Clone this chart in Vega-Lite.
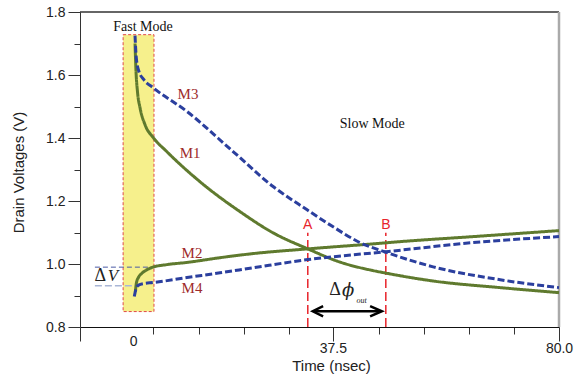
{
  "$schema": "https://vega.github.io/schema/vega-lite/v6.json",
  "width": 479,
  "height": 315,
  "autosize": "none",
  "padding": {"left": 80, "top": 12, "right": 15, "bottom": 55},
  "background": "white",
  "config": {
    "view": {"stroke": null},
    "axis": {
      "labelFont": "Liberation Sans",
      "labelFontSize": 14,
      "labelColor": "#222",
      "titleFont": "Liberation Sans",
      "titleFontSize": 15,
      "titleFontWeight": "normal",
      "titleColor": "#222",
      "grid": false
    }
  },
  "datasets": {
    "curves": [
      {"s": "M1", "t": 0.34, "v": 1.70}, {"s": "M1", "t": 0.5, "v": 1.62}, {"s": "M1", "t": 0.8, "v": 1.547},
      {"s": "M1", "t": 1.28, "v": 1.496}, {"s": "M1", "t": 2.22, "v": 1.442}, {"s": "M1", "t": 3.78, "v": 1.401},
      {"s": "M1", "t": 6.3, "v": 1.357}, {"s": "M1", "t": 12.56, "v": 1.261}, {"s": "M1", "t": 20.08, "v": 1.166},
      {"s": "M1", "t": 26.28, "v": 1.099}, {"s": "M1", "t": 32.8, "v": 1.048}, {"s": "M1", "t": 38.87, "v": 1.006},
      {"s": "M1", "t": 45.1, "v": 0.979}, {"s": "M1", "t": 47.5, "v": 0.971}, {"s": "M1", "t": 56.35, "v": 0.946},
      {"s": "M1", "t": 68.95, "v": 0.925}, {"s": "M1", "t": 80, "v": 0.909},
      {"s": "M2", "t": 0.4, "v": 0.912}, {"s": "M2", "t": 0.6, "v": 0.94}, {"s": "M2", "t": 1.0, "v": 0.958},
      {"s": "M2", "t": 1.6, "v": 0.97}, {"s": "M2", "t": 2.6, "v": 0.982}, {"s": "M2", "t": 3.7, "v": 0.99},
      {"s": "M2", "t": 6.3, "v": 0.998}, {"s": "M2", "t": 10.1, "v": 1.005}, {"s": "M2", "t": 16.3, "v": 1.02},
      {"s": "M2", "t": 22.5, "v": 1.033}, {"s": "M2", "t": 32.8, "v": 1.048}, {"s": "M2", "t": 45.1, "v": 1.064},
      {"s": "M2", "t": 50.15, "v": 1.071}, {"s": "M2", "t": 63.9, "v": 1.087}, {"s": "M2", "t": 80, "v": 1.106},
      {"s": "M3", "t": 0.34, "v": 1.725}, {"s": "M3", "t": 0.55, "v": 1.66}, {"s": "M3", "t": 1.0, "v": 1.615},
      {"s": "M3", "t": 2.0, "v": 1.585}, {"s": "M3", "t": 3.72, "v": 1.56}, {"s": "M3", "t": 10.11, "v": 1.484},
      {"s": "M3", "t": 18.76, "v": 1.357}, {"s": "M3", "t": 26.28, "v": 1.246}, {"s": "M3", "t": 32.67, "v": 1.172},
      {"s": "M3", "t": 37.56, "v": 1.118}, {"s": "M3", "t": 42.6, "v": 1.068}, {"s": "M3", "t": 47.7, "v": 1.036},
      {"s": "M3", "t": 56.35, "v": 0.991}, {"s": "M3", "t": 68.95, "v": 0.95}, {"s": "M3", "t": 80, "v": 0.925},
      {"s": "M4", "t": 0.2, "v": 0.897}, {"s": "M4", "t": 0.6, "v": 0.925}, {"s": "M4", "t": 1.0, "v": 0.933},
      {"s": "M4", "t": 2.0, "v": 0.938}, {"s": "M4", "t": 3.7, "v": 0.941}, {"s": "M4", "t": 10.1, "v": 0.957},
      {"s": "M4", "t": 16.3, "v": 0.972}, {"s": "M4", "t": 22.5, "v": 0.988}, {"s": "M4", "t": 32.8, "v": 1.014},
      {"s": "M4", "t": 47.5, "v": 1.039}, {"s": "M4", "t": 63.9, "v": 1.068}, {"s": "M4", "t": 80, "v": 1.087}
    ],
    "box": [{"t": -1.9, "t2": 3.9, "v": 0.849, "v2": 1.728}],
    "frameTop": [{"t": -10, "t2": 80, "v": 1.8}],
    "frameRight": [{"t": 80, "v": 0.8, "v2": 1.8}],
    "dvUpper": [{"t": -7.2, "t2": 3.2, "v": 0.99}],
    "dvLower": [{"t": -7.2, "t2": 0.5, "v": 0.931}],
    "markers": [
      {"name": "A", "t": 32.8, "v": 0.8, "v2": 1.099, "vl": 1.123},
      {"name": "B", "t": 47.46, "v": 0.8, "v2": 1.099, "vl": 1.123}
    ],
    "shaft": [{"t": 34.0, "t2": 46.45, "v": 0.85}],
    "heads": [
      {"h": "L", "i": 1, "t": 35.68, "v": 0.866}, {"h": "L", "i": 2, "t": 33.74, "v": 0.85}, {"h": "L", "i": 3, "t": 35.68, "v": 0.834},
      {"h": "R", "i": 1, "t": 44.51, "v": 0.866}, {"h": "R", "i": 2, "t": 46.71, "v": 0.85}, {"h": "R", "i": 3, "t": 44.51, "v": 0.834}
    ],
    "modeLabels": [
      {"label": "Fast Mode", "t": 1.84, "v": 1.753},
      {"label": "Slow Mode", "t": 44.9, "v": 1.445}
    ],
    "seriesLabels": [
      {"label": "M3", "t": 10.3, "v": 1.541},
      {"label": "M1", "t": 10.7, "v": 1.353},
      {"label": "M2", "t": 11.05, "v": 1.036},
      {"label": "M4", "t": 11.05, "v": 0.925}
    ],
    "deltaUpright": [
      {"label": "Δ", "t": 37.9, "v": 0.918},
      {"label": "Δ", "t": -6.2, "v": 0.961}
    ],
    "phi": [{"label": "ϕ", "t": 40.4, "v": 0.913}],
    "outSub": [{"label": "out", "t": 42.9, "v": 0.884}],
    "vItalic": [{"label": "V", "t": -3.8, "v": 0.961}]
  },
  "encoding": {
    "x": {
      "field": "t",
      "type": "quantitative",
      "scale": {"domain": [-10, 80], "nice": false, "zero": false},
      "axis": {
        "title": "Time (nsec)",
        "titleX": 251,
        "titlePadding": 3,
        "values": [-10, 0, 3.8, 12.27, 20.73, 29.2, 37.5, 46.13, 54.6, 63.07, 71.53, 80],
        "labelExpr": "datum.value == 0 ? '0' : datum.value == 37.5 ? '37.5' : datum.value == 80 ? '80.0' : ''",
        "tickSize": {"condition": {"test": "datum.value == 37.5 || datum.value == 80 || datum.value == -10", "value": 14}, "value": 7},
        "tickOpacity": {"condition": {"test": "datum.value == 0", "value": 0}, "value": 1},
        "tickColor": "#333",
        "domainColor": "#111",
        "labelPadding": 0,
        "labelFlush": false,
        "labelOverlap": false
      }
    },
    "y": {
      "field": "v",
      "type": "quantitative",
      "scale": {"domain": [0.8, 1.8], "nice": false, "zero": false},
      "axis": {
        "title": "Drain Voltages (V)",
        "values": [0.8, 0.9, 1.0, 1.1, 1.2, 1.3, 1.4, 1.5, 1.6, 1.7, 1.8],
        "labelExpr": "round(datum.value * 10) % 2 == 0 ? format(datum.value, '.1f') : ''",
        "tickSize": {"condition": {"test": "round(datum.value * 10) % 2 == 1", "value": 6}, "value": 12},
        "tickColor": "#333",
        "domainColor": "#333",
        "labelPadding": 3,
        "labelFlush": false,
        "labelOverlap": false,
        "titleX": -62,
        "titleY": 160,
        "titleBaseline": "middle"
      }
    }
  },
  "layer": [
    {
      "data": {"name": "box"},
      "mark": {"type": "rect", "fill": "#f6f08c", "stroke": "#e04848", "strokeDash": [3, 2], "strokeWidth": 1},
      "encoding": {"x2": {"field": "t2"}, "y2": {"field": "v2"}}
    },
    {
      "data": {"name": "frameTop"},
      "mark": {"type": "rule", "stroke": "#333", "strokeWidth": 1.5},
      "encoding": {"x2": {"field": "t2"}}
    },
    {
      "data": {"name": "frameRight"},
      "mark": {"type": "rule", "stroke": "#aaaaaa", "strokeWidth": 2.5},
      "encoding": {"y2": {"field": "v2"}}
    },
    {
      "data": {"name": "dvUpper"},
      "mark": {"type": "rule", "stroke": "#4b5ba5", "strokeWidth": 1, "strokeDash": [5, 3]},
      "encoding": {"x2": {"field": "t2"}}
    },
    {
      "data": {"name": "dvLower"},
      "mark": {"type": "rule", "stroke": "#a9b6d6", "strokeWidth": 1.5, "strokeDash": [7, 3]},
      "encoding": {"x2": {"field": "t2"}}
    },
    {
      "data": {"name": "markers"},
      "mark": {"type": "rule", "stroke": "#e8242b", "strokeWidth": 1.5, "strokeDash": [9, 4]},
      "encoding": {"y2": {"field": "v2"}}
    },
    {
      "data": {"name": "curves"},
      "mark": {"type": "line", "interpolate": "monotone", "strokeWidth": 3},
      "encoding": {
        "detail": {"field": "s"},
        "color": {"field": "s", "type": "nominal", "scale": {"domain": ["M1", "M2", "M3", "M4"], "range": ["#5f7a2e", "#5f7a2e", "#2b3f9e", "#2b3f9e"]}, "legend": null},
        "strokeDash": {"field": "s", "type": "nominal", "scale": {"domain": ["M1", "M2", "M3", "M4"], "range": [[1, 0], [1, 0], [7, 3], [7, 3]]}, "legend": null}
      }
    },
    {
      "data": {"name": "shaft"},
      "mark": {"type": "rule", "stroke": "black", "strokeWidth": 2.5},
      "encoding": {"x2": {"field": "t2"}}
    },
    {
      "data": {"name": "heads"},
      "mark": {"type": "line", "stroke": "black", "strokeWidth": 2.5, "strokeJoin": "miter"},
      "encoding": {"detail": {"field": "h"}, "order": {"field": "i", "type": "quantitative"}}
    },
    {
      "data": {"name": "markers"},
      "mark": {"type": "text", "font": "Liberation Sans", "fontSize": 14, "color": "#e8242b", "baseline": "middle", "align": "center"},
      "encoding": {"y": {"field": "vl", "type": "quantitative"}, "text": {"field": "name"}}
    },
    {
      "data": {"name": "modeLabels"},
      "mark": {"type": "text", "font": "Liberation Serif", "fontSize": 14, "color": "#111", "baseline": "middle", "align": "center"},
      "encoding": {"text": {"field": "label"}}
    },
    {
      "data": {"name": "seriesLabels"},
      "mark": {"type": "text", "font": "Liberation Serif", "fontSize": 15, "color": "#9e2b2b", "baseline": "middle", "align": "center"},
      "encoding": {"text": {"field": "label"}}
    },
    {
      "data": {"name": "deltaUpright"},
      "mark": {"type": "text", "font": "Liberation Serif", "fontSize": 18, "color": "#222", "baseline": "middle", "align": "center"},
      "encoding": {"text": {"field": "label"}}
    },
    {
      "data": {"name": "phi"},
      "mark": {"type": "text", "font": "DejaVu Serif", "fontStyle": "italic", "fontSize": 18, "color": "#222", "baseline": "middle", "align": "center"},
      "encoding": {"text": {"field": "label"}}
    },
    {
      "data": {"name": "outSub"},
      "mark": {"type": "text", "font": "Liberation Serif", "fontStyle": "italic", "fontSize": 8, "color": "#222", "baseline": "middle", "align": "center"},
      "encoding": {"text": {"field": "label"}}
    },
    {
      "data": {"name": "vItalic"},
      "mark": {"type": "text", "font": "Liberation Serif", "fontStyle": "italic", "fontSize": 17, "color": "#222", "baseline": "middle", "align": "center"},
      "encoding": {"text": {"field": "label"}}
    }
  ]
}
